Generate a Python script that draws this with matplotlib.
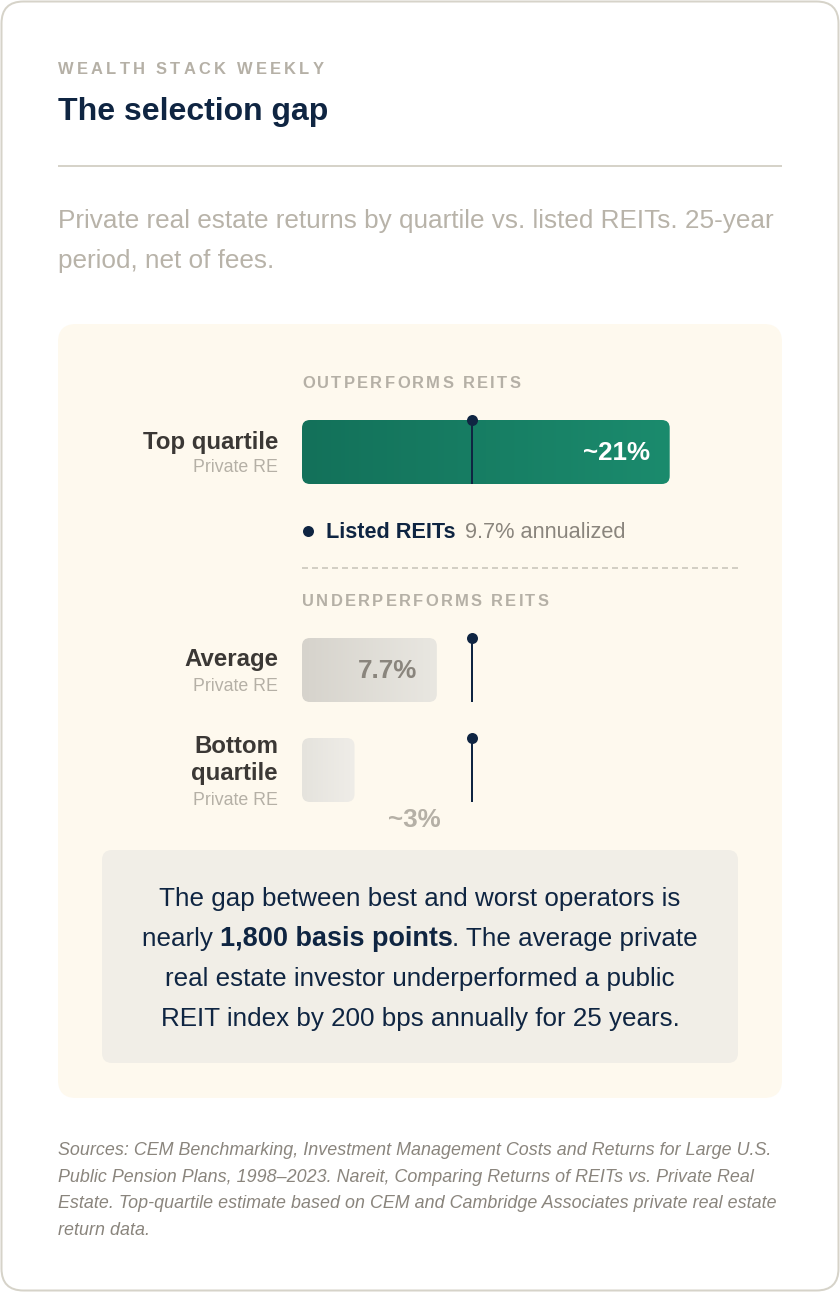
import matplotlib
matplotlib.use("Agg")
import matplotlib.pyplot as plt
import numpy as np
from matplotlib.patches import FancyBboxPatch
from matplotlib.colors import LinearSegmentedColormap
from matplotlib.font_manager import FontProperties, findfont
from matplotlib.ft2font import FT2Font

# ---- data ----
kicker = "WEALTH STACK WEEKLY"
title = "The selection gap"
subtitle = ["Private real estate returns by quartile vs. listed REITs. 25-year",
            "period, net of fees."]
section_labels = ["OUTPERFORMS REITS", "UNDERPERFORMS REITS"]
category_lines = [["Top quartile"], ["Average"], ["Bottom", "quartile"]]
sub_label = "Private RE"
returns = [21.0, 7.7, 3.0]
value_labels = ["~21%", "7.7%", "~3%"]
reit_return = 9.7
legend_name = "Listed REITs"
callout_lines = ["The gap between best and worst operators is",
                 ["nearly ", "1,800 basis points", ". The average private"],
                 "real estate investor underperformed a public",
                 "REIT index by 200 bps annually for 25 years."]
sources = ["Sources: CEM Benchmarking, Investment Management Costs and Returns for Large U.S.",
           "Public Pension Plans, 1998\u20132023. Nareit, Comparing Returns of REITs vs. Private Real",
           "Estate. Top-quartile estimate based on CEM and Cambridge Associates private real estate",
           "return data."]

# ---- style ----
FONT = "Liberation Sans"
NAVY = "#0f2542"
DARK = "#3b3835"
MUTED = "#b5b0a6"
MID = "#8a857d"
RULE = "#d6d3c9"
PANEL = "#fef9ee"
CALLOUT = "#f1eee7"
bar_grads = [("#13715a", "#1b8b6d"), ("#d6d3cc", "#e9e7e1"), ("#e5e3dd", "#efede8")]
value_colors = ["white", MID, MUTED]

PT = 72 / 100


def px(v):
    return v * PT


def advance(s, size_px, weight="normal", style="normal"):
    f = FT2Font(findfont(FontProperties(family=FONT, weight=weight, style=style)))
    f.set_size(size_px * PT, 100)
    return sum(f.load_char(ord(c)).linearHoriAdvance / 65536 for c in s)


def spaced(ax, x, y, s, size_px, spacing, color):
    for ch in s:
        ax.text(x, y, ch, fontsize=px(size_px), fontweight="bold", color=color,
                ha="left", va="baseline", family=FONT)
        x += advance(ch, size_px, "bold") + spacing


fig = plt.figure(figsize=(8.4, 12.92), dpi=100)
ax = fig.add_axes([0, 0, 1, 1])
ax.set_xlim(0, 840)
ax.set_ylim(1292, 0)
ax.axis("off")

ax.add_patch(FancyBboxPatch((1.5, 1.5), 837, 1289, boxstyle="round,pad=0,rounding_size=22",
                            fc="white", ec=RULE, lw=px(2)))

spaced(ax, 58, 74, kicker, 16.5, 3.25, MUTED)
ax.text(58, 120, title, fontsize=px(32), fontweight="bold", color=NAVY,
        family=FONT, va="baseline")
ax.plot([58, 782], [166, 166], color=RULE, lw=px(2), solid_capstyle="butt")
for i, line in enumerate(subtitle):
    ax.text(58, 228 + 40 * i, line, fontsize=px(26.1), color="#b8b3a9",
            family=FONT, va="baseline")

# panel
ax.add_patch(FancyBboxPatch((58, 324), 724, 774, boxstyle="round,pad=0,rounding_size=18",
                            fc=PANEL, ec="none"))

spaced(ax, 302, 388, section_labels[0], 16.5, 2.3, MUTED)
spaced(ax, 302, 606, section_labels[1], 16.5, 2.3, MUTED)
ax.plot([302, 738], [568, 568], color="#d3cfc4", lw=px(2), dashes=(3, 2),
        solid_capstyle="butt", dash_capstyle="butt")

# category labels
name_base = [[448.5], [666], [753, 780]]
sub_base = [472.5, 690.7, 805]
for lines, nb, sb in zip(category_lines, name_base, sub_base):
    for txt, y in zip(lines, nb):
        ax.text(278, y, txt, fontsize=px(24), fontweight="bold", color=DARK,
                family=FONT, ha="right", va="baseline")
    ax.text(278, sb, sub_label, fontsize=px(17.8), color=MUTED,
            family=FONT, ha="right", va="baseline")

# legend
ax.scatter([308], [531], s=px(11) ** 2, color=NAVY, lw=0, zorder=5)
ax.text(326, 537.5, legend_name, fontsize=px(21.7), fontweight="bold", color=NAVY,
        family=FONT, va="baseline")
ax.text(326 + advance(legend_name + " ", 21.7, "bold") + 2, 537.5,
        f"{reit_return:.1f}% annualized",
        fontsize=px(21.8), color=MID, family=FONT, va="baseline")

# bars
bx = fig.add_axes([302 / 840, 1 - 1098 / 1292, 436 / 840, 774 / 1292])
bx.patch.set_visible(False)
bx.axis("off")
XMAX = 24.9
ppx = 436 / XMAX
tops = [420, 638, 738]
bar_h = 64
val_base = [460.5, 678.5, 827]
val_off = [-20, -20, 33]
val_ha = ["right", "right", "left"]
grad = np.linspace(0, 1, 256).reshape(1, -1)
for i, val in enumerate(returns):
    patch = FancyBboxPatch((0, tops[i]), val, bar_h,
                           boxstyle=f"round,pad=0,rounding_size={8 / ppx}",
                           mutation_aspect=ppx, fc="none", ec="none")
    bx.add_patch(patch)
    cmap = LinearSegmentedColormap.from_list(f"g{i}", bar_grads[i])
    bx.imshow(grad, extent=(0, val, tops[i] + bar_h, tops[i]), cmap=cmap,
              aspect="auto", clip_path=patch, interpolation="bilinear")
    bx.annotate(value_labels[i], xy=(val, val_base[i]), xytext=(px(val_off[i]), 0),
                textcoords="offset points", ha=val_ha[i], va="baseline",
                fontsize=px(26), fontweight="bold", color=value_colors[i], family=FONT)

bx.vlines([reit_return] * 3, tops, [t + bar_h for t in tops], color=NAVY, lw=px(2), zorder=4)
bx.scatter([reit_return] * 3, [t - 0.5 for t in tops], s=px(11) ** 2, color=NAVY, lw=0, zorder=5)
bx.set_xlim(0, XMAX)
bx.set_ylim(1098, 324)

# callout
ax.add_patch(FancyBboxPatch((102, 850), 636, 213, boxstyle="round,pad=0,rounding_size=10",
                            fc=CALLOUT, ec="none"))
for i, line in enumerate(callout_lines):
    y = 906 + 40 * i
    if isinstance(line, str):
        ax.text(420, y, line, fontsize=px(26), color=NAVY, family=FONT,
                ha="center", va="baseline")
    else:
        weights = ["normal", "bold", "normal"]
        sizes = [26, 27, 26]
        widths = [advance(p, s, w) for p, w, s in zip(line, weights, sizes)]
        x = 420 - sum(widths) / 2
        for p, w, s, wd in zip(line, weights, sizes, widths):
            ax.text(x, y, p, fontsize=px(s), fontweight=w, color=NAVY, family=FONT,
                    ha="left", va="baseline")
            x += wd

for i, line in enumerate(sources):
    ax.text(58, 1155 + 26.7 * i, line, fontsize=px(17.9), style="italic", color=MID,
            family=FONT, va="baseline")

fig.savefig("out.png", dpi=100, facecolor="white")
